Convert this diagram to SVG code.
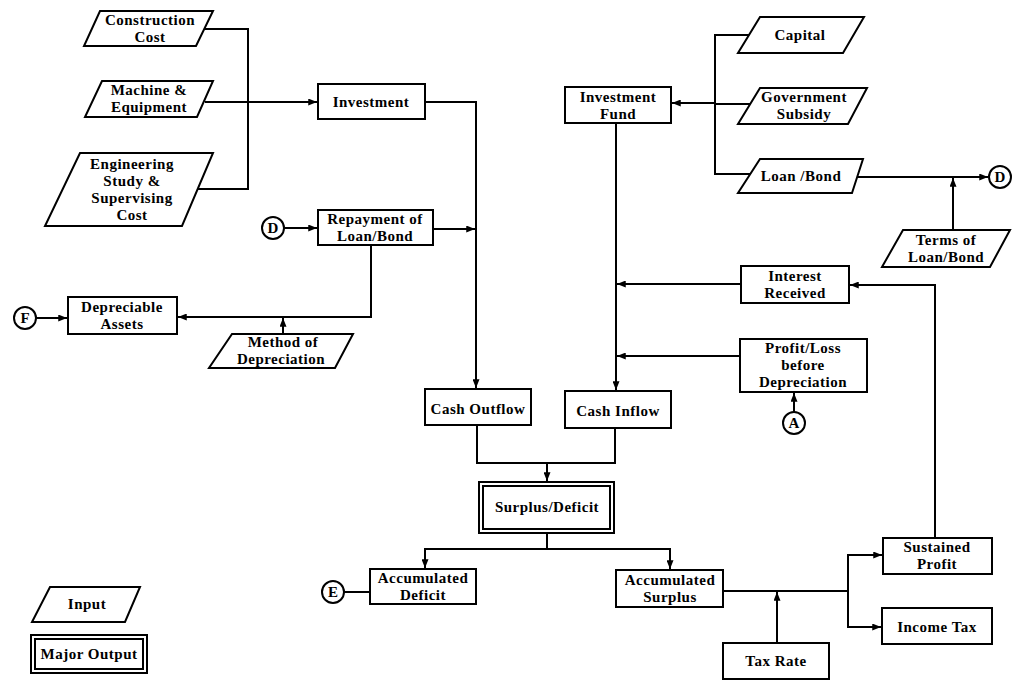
<svg xmlns="http://www.w3.org/2000/svg" width="1012" height="682" viewBox="0 0 1012 682">
<style>
.bx{fill:#fff;stroke:#000;stroke-width:2}
.ln{fill:none;stroke:#000;stroke-width:2}
.t{font-family:"Liberation Serif","Times New Roman",serif;font-weight:bold;font-size:15px;letter-spacing:0.5px;text-anchor:middle;fill:#000}
.c{font-family:"Liberation Serif","Times New Roman",serif;font-weight:bold;font-size:15px;text-anchor:middle;fill:#000}
</style>
<defs>
<marker id="ah" viewBox="0 0 10 8" refX="10" refY="4" markerWidth="9" markerHeight="7" orient="auto" markerUnits="userSpaceOnUse"><path d="M0,0 L10,4 L0,8 z" fill="#000"/></marker>
</defs>
<rect width="1012" height="682" fill="#fff"/>
<g id="connectors">
<polyline class="ln" points="205,29 248,29 248,189 192,189"/>
<line class="ln" x1="205" y1="102" x2="317" y2="102" marker-end="url(#ah)"/>
<polyline class="ln" points="425,102 476,102 476,388" marker-end="url(#ah)"/>
<line class="ln" x1="284" y1="228" x2="317" y2="228" marker-end="url(#ah)"/>
<line class="ln" x1="433" y1="229" x2="475" y2="229" marker-end="url(#ah)"/>
<polyline class="ln" points="371,245 371,317 178,317" marker-end="url(#ah)"/>
<line class="ln" x1="36" y1="318" x2="67" y2="318" marker-end="url(#ah)"/>
<line class="ln" x1="283" y1="334" x2="283" y2="318" marker-end="url(#ah)"/>
<line class="ln" x1="715" y1="103" x2="672" y2="103" marker-end="url(#ah)"/>
<polyline class="ln" points="749,35 715,35 715,174 750,174"/>
<line class="ln" x1="750" y1="104" x2="715" y2="104"/>
<line class="ln" x1="857" y1="177" x2="988" y2="177" marker-end="url(#ah)"/>
<line class="ln" x1="953" y1="230" x2="953" y2="178" marker-end="url(#ah)"/>
<line class="ln" x1="616" y1="123" x2="616" y2="390" marker-end="url(#ah)"/>
<line class="ln" x1="741" y1="284" x2="617" y2="284" marker-end="url(#ah)"/>
<line class="ln" x1="740" y1="356" x2="617" y2="356" marker-end="url(#ah)"/>
<line class="ln" x1="794" y1="412" x2="794" y2="393" marker-end="url(#ah)"/>
<polyline class="ln" points="935,538 935,285 850,285" marker-end="url(#ah)"/>
<polyline class="ln" points="477,425 477,463 615,463 615,428"/>
<line class="ln" x1="547" y1="463" x2="547" y2="481" marker-end="url(#ah)"/>
<line class="ln" x1="547" y1="533" x2="547" y2="549"/>
<polyline class="ln" points="425,569 425,549 670,549 670,569"/>
<line class="ln" x1="425" y1="555" x2="425" y2="568" marker-end="url(#ah)"/>
<line class="ln" x1="670" y1="555" x2="670" y2="569" marker-end="url(#ah)"/>
<line class="ln" x1="344" y1="592" x2="370" y2="592"/>
<line class="ln" x1="723" y1="591" x2="848" y2="591"/>
<polyline class="ln" points="882,555 848,555 848,627 881,627"/>
<line class="ln" x1="860" y1="555" x2="882" y2="555" marker-end="url(#ah)"/>
<line class="ln" x1="860" y1="627" x2="881" y2="627" marker-end="url(#ah)"/>
<line class="ln" x1="777" y1="643" x2="777" y2="592" marker-end="url(#ah)"/>
</g>
<g id="construction-cost"><polygon class="bx" points="100,11 213,11 196,46 84,46"/><text class="t" x="150" y="25">Construction</text><text class="t" x="150" y="42">Cost</text></g>
<g id="machine-equipment"><polygon class="bx" points="102,81 213,81 197,117 85,117"/><text class="t" x="149" y="95">Machine &amp;</text><text class="t" x="149" y="112">Equipment</text></g>
<g id="engineering"><polygon class="bx" points="80,153 213,153 182,226 45,226"/><text class="t" x="132" y="169">Engineering</text><text class="t" x="132" y="186">Study &amp;</text><text class="t" x="132" y="203">Supervising</text><text class="t" x="132" y="220">Cost</text></g>
<g id="investment"><rect class="bx" x="318" y="84" width="107" height="35"/><text class="t" x="371" y="107">Investment</text></g>
<g id="investment-fund"><rect class="bx" x="565" y="87" width="106" height="36"/><text class="t" x="618" y="102">Investment</text><text class="t" x="618" y="119">Fund</text></g>
<g id="capital"><polygon class="bx" points="760,17 864,17 843,53 738,53"/><text class="t" x="800" y="40">Capital</text></g>
<g id="government-subsidy"><polygon class="bx" points="760,88 867,88 848,124 738,124"/><text class="t" x="804" y="102">Government</text><text class="t" x="804" y="119">Subsidy</text></g>
<g id="loan-bond"><polygon class="bx" points="760,159 863,159 852,193 738,193"/><text class="t" x="801" y="181">Loan  /Bond</text></g>
<g id="terms"><polygon class="bx" points="903,230 1010,230 990,267 882,267"/><text class="t" x="946" y="245">Terms of</text><text class="t" x="946" y="262">Loan/Bond</text></g>
<g id="repayment"><rect class="bx" x="318" y="210" width="115" height="35"/><text class="t" x="375" y="224">Repayment of</text><text class="t" x="375" y="241">Loan/Bond</text></g>
<g id="depreciable-assets"><rect class="bx" x="68" y="297" width="109" height="37"/><text class="t" x="122" y="312">Depreciable</text><text class="t" x="122" y="329">Assets</text></g>
<g id="method-depreciation"><polygon class="bx" points="232,334 353,334 335,368 209,368"/><text class="t" x="283" y="347">Method of</text><text class="t" x="281" y="364">Depreciation</text></g>
<g id="interest-received"><rect class="bx" x="741" y="266" width="108" height="37"/><text class="t" x="795" y="281">Interest</text><text class="t" x="795" y="298">Received</text></g>
<g id="profit-loss"><rect class="bx" x="740" y="339" width="127" height="53"/><text class="t" x="803" y="353">Profit/Loss</text><text class="t" x="803" y="370">before</text><text class="t" x="803" y="387">Depreciation</text></g>
<g id="cash-outflow"><rect class="bx" x="425" y="389" width="106" height="36"/><text class="t" x="478" y="414">Cash Outflow</text></g>
<g id="cash-inflow"><rect class="bx" x="565" y="391" width="106" height="37"/><text class="t" x="618" y="416">Cash Inflow</text></g>
<g id="surplus-deficit"><rect class="bx" x="479" y="482" width="135" height="51"/><rect class="bx" x="483" y="486" width="127" height="43"/><text class="t" x="547" y="512">Surplus/Deficit</text></g>
<g id="accumulated-deficit"><rect class="bx" x="370" y="569" width="106" height="35"/><text class="t" x="423" y="583">Accumulated</text><text class="t" x="423" y="600">Deficit</text></g>
<g id="accumulated-surplus"><rect class="bx" x="616" y="570" width="107" height="37"/><text class="t" x="670" y="585">Accumulated</text><text class="t" x="670" y="602">Surplus</text></g>
<g id="sustained-profit"><rect class="bx" x="883" y="538" width="109" height="36"/><text class="t" x="937" y="552">Sustained</text><text class="t" x="937" y="569">Profit</text></g>
<g id="income-tax"><rect class="bx" x="882" y="608" width="110" height="36"/><text class="t" x="937" y="632">Income Tax</text></g>
<g id="tax-rate"><rect class="bx" x="723" y="643" width="106" height="36"/><text class="t" x="776" y="666">Tax Rate</text></g>
<g id="circle-d-left"><circle class="bx" cx="273" cy="228" r="11"/><text class="c" x="273" y="233">D</text></g>
<g id="circle-f"><circle class="bx" cx="25" cy="318" r="11"/><text class="c" x="25" y="323">F</text></g>
<g id="circle-d-right"><circle class="bx" cx="1000" cy="177" r="11"/><text class="c" x="1000" y="182">D</text></g>
<g id="circle-a"><circle class="bx" cx="794" cy="423" r="11"/><text class="c" x="794" y="428">A</text></g>
<g id="circle-e"><circle class="bx" cx="333" cy="592" r="11"/><text class="c" x="333" y="597">E</text></g>
<g id="legend-input"><polygon class="bx" points="50,587 140,587 125,622 32,622"/><text class="t" x="87" y="609">Input</text></g>
<g id="legend-major-output"><rect class="bx" x="31" y="635" width="116" height="38"/><rect class="bx" x="35" y="639" width="108" height="30"/><text class="t" x="89" y="659">Major Output</text></g>
</svg>
